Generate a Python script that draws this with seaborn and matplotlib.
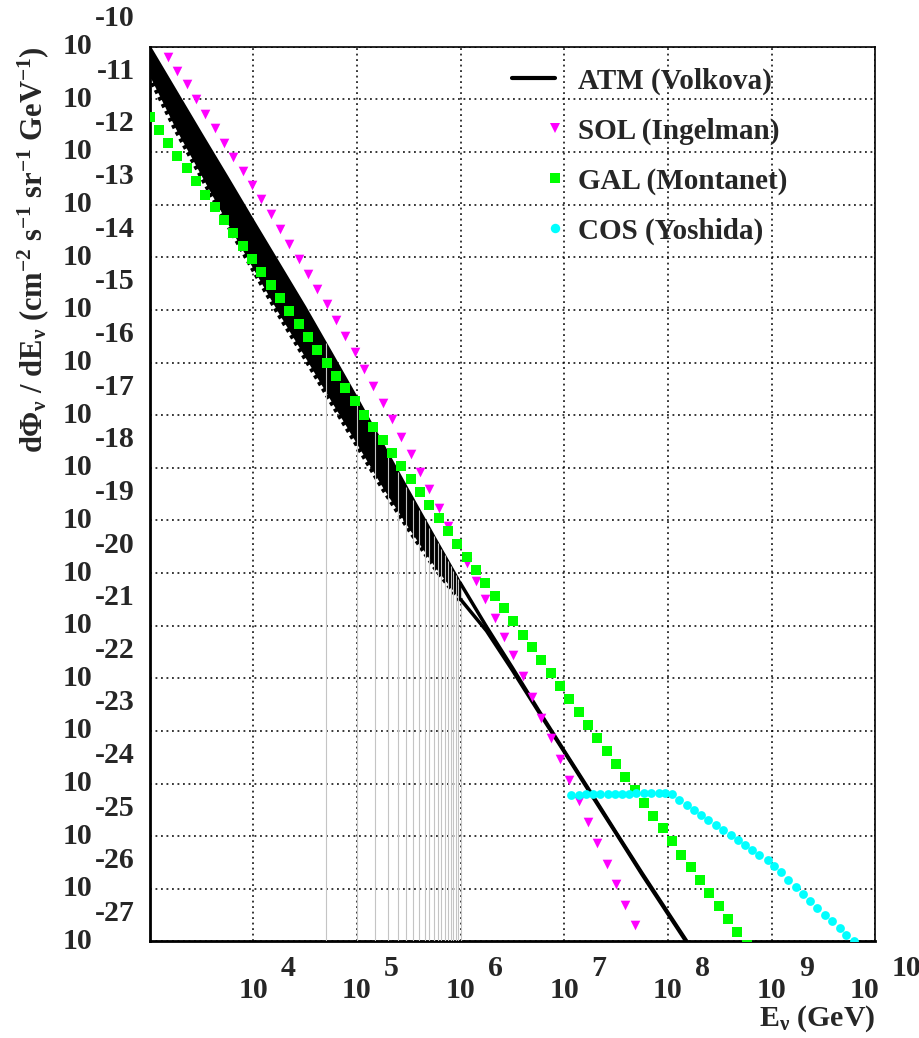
import numpy as np
import pandas as pd
import matplotlib
matplotlib.use("Agg")
import matplotlib.pyplot as plt
import seaborn as sns
from matplotlib.lines import Line2D
from matplotlib.legend_handler import HandlerLine2D
from matplotlib.ticker import LogLocator, NullFormatter

# energy grid (log10 E / GeV) shared by SOL and GAL markers
e_grid = [3.00, 3.09, 3.18, 3.27, 3.36, 3.45, 3.54, 3.63, 3.72, 3.81,
          3.90, 3.99, 4.08, 4.17, 4.26, 4.35, 4.44, 4.53, 4.62, 4.71,
          4.80, 4.89, 4.98, 5.07, 5.16, 5.25, 5.34, 5.43, 5.52, 5.61,
          5.70, 5.79, 5.88, 5.97, 6.06, 6.15, 6.24, 6.33, 6.42, 6.51,
          6.60, 6.69, 6.78, 6.87, 6.96, 7.05, 7.14, 7.23, 7.32, 7.41,
          7.50, 7.59, 7.68, 7.77, 7.86, 7.95, 8.04, 8.13, 8.22, 8.31,
          8.40, 8.49, 8.58, 8.67, 8.76]

# SOL (Ingelman), log10 flux, starts at e_grid[1]
sol_flux = [-9.92, -10.19, -10.46, -10.71, -10.99, -11.27, -11.54, -11.82, -12.09, -12.36,
            -12.63, -12.90, -13.17, -13.46, -13.74, -14.04, -14.31, -14.60, -14.89, -15.19,
            -15.50, -15.80, -16.12, -16.44, -16.76, -17.07, -17.41, -17.74, -18.08, -18.41,
            -18.76, -19.10, -19.45, -19.80, -20.15, -20.49, -20.86, -21.21, -21.56, -21.96,
            -22.35, -22.75, -23.14, -23.54, -23.93, -24.33, -24.73, -25.12, -25.52, -25.91,
            -26.30, -26.69]

# GAL (Montanet), log10 flux on e_grid
gal_flux = [-11.33, -11.58, -11.82, -12.07, -12.31, -12.56, -12.81, -13.05, -13.30, -13.54,
            -13.79, -14.03, -14.28, -14.53, -14.77, -15.02, -15.26, -15.51, -15.76, -16.00,
            -16.25, -16.49, -16.74, -16.99, -17.23, -17.48, -17.72, -17.97, -18.22, -18.46,
            -18.71, -18.95, -19.20, -19.44, -19.69, -19.94, -20.18, -20.43, -20.67, -20.92,
            -21.17, -21.41, -21.66, -21.90, -22.15, -22.40, -22.64, -22.89, -23.13, -23.38,
            -23.63, -23.87, -24.12, -24.36, -24.61, -24.85, -25.10, -25.35, -25.59, -25.84,
            -26.08, -26.33, -26.58, -26.82, -27.07]

# COS (Yoshida)
cos_e = [7.06, 7.14, 7.21, 7.28, 7.34, 7.42, 7.49, 7.56, 7.62, 7.69,
         7.77, 7.84, 7.91, 7.97, 8.04, 8.11, 8.18, 8.25, 8.32, 8.39,
         8.46, 8.53, 8.61, 8.68, 8.74, 8.81, 8.88, 8.96, 9.02, 9.09,
         9.16, 9.23, 9.30, 9.37, 9.44, 9.51, 9.58, 9.66, 9.72, 9.79]
cos_flux = [-24.22, -24.21, -24.20, -24.20, -24.20, -24.20, -24.19, -24.19, -24.19, -24.18,
            -24.17, -24.17, -24.17, -24.17, -24.20, -24.31, -24.41, -24.51, -24.60, -24.70,
            -24.79, -24.88, -24.98, -25.08, -25.17, -25.27, -25.36, -25.46, -25.57, -25.68,
            -25.83, -25.96, -26.10, -26.23, -26.36, -26.49, -26.62, -26.75, -26.88, -26.99]

# ATM (Volkova) zenith band, 1e3 - 1e6 GeV
atm_band_e = [3.00, 3.25, 3.50, 3.75, 4.00, 4.25, 4.50, 4.75, 5.00, 5.25, 5.50, 5.75, 6.00]
atm_band_hi = [-10.00, -10.83, -11.66, -12.48, -13.31, -14.13, -14.95, -15.81, -16.68,
               -17.56, -18.45, -19.33, -20.20]
atm_band_lo = [-10.55, -11.55, -12.45, -13.35, -14.22, -15.08, -15.90, -16.73, -17.55,
               -18.38, -19.15, -19.88, -20.52]
# ATM above 1e6 GeV (two curves)
atm_tail_e = [6.00, 6.25, 6.50, 6.75, 7.00, 7.25, 7.50, 7.75, 8.00, 8.25]
atm_tail_a = [-20.20, -21.02, -21.80, -22.60, -23.38, -24.15, -24.93, -25.70, -26.45, -27.20]
atm_tail_b = [-20.50, -21.10, -21.85, -22.63, -23.40, -24.18, -24.95, -25.73, -26.48, -27.23]

# energies (GeV) of the thin grey drop lines under the band
drop_e = [5e4, 1e5, 1.5e5, 2e5, 2.5e5, 3e5, 3.5e5, 4e5, 4.5e5, 5e5,
          5.5e5, 6e5, 6.5e5, 7e5, 7.5e5, 8e5, 8.5e5, 9e5, 9.5e5, 1e6]


class RightMarker(HandlerLine2D):
    # ROOT puts the legend marker at the right end of the sample box
    def create_artists(self, *args, **kwargs):
        arts = super().create_artists(*args, **kwargs)
        for a in arts:
            a.set_markevery([2])
        return arts


sns.set_style("white")
plt.rcParams["font.family"] = ["Liberation Serif", "DejaVu Serif"]
plt.rcParams["font.weight"] = "bold"
plt.rcParams["mathtext.fontset"] = "custom"
plt.rcParams["mathtext.rm"] = "Liberation Serif:bold"
plt.rcParams["mathtext.it"] = "Liberation Serif:bold"
plt.rcParams["mathtext.bf"] = "Liberation Serif:bold"
plt.rcParams["mathtext.default"] = "rm"

fig = plt.figure(figsize=(9.2, 10.38), dpi=100)
ax = fig.add_axes([0.1625, 0.0930, 0.789, 0.862])
ax.set_xscale("log")
ax.set_yscale("log")
ax.set_xlim(1e3, 1e10)
ax.set_ylim(1e-27, 1e-10)

sol = pd.DataFrame({"E": 10 ** np.array(e_grid[1:1 + len(sol_flux)]), "F": 10 ** np.array(sol_flux)})
gal = pd.DataFrame({"E": 10 ** np.array(e_grid), "F": 10 ** np.array(gal_flux)})
cos = pd.DataFrame({"E": 10 ** np.array(cos_e), "F": 10 ** np.array(cos_flux)})

band_e = 10 ** np.array(atm_band_e)
band_hi = 10 ** np.array(atm_band_hi)
band_lo = 10 ** np.array(atm_band_lo)

# band
ax.fill_between(band_e, band_lo, band_hi, color="black", lw=0, zorder=3)
ax.plot(band_e, band_hi, color="black", lw=2, zorder=3)
ax.plot(band_e, band_lo, color="black", lw=4, ls=(0, (0.7, 0.7)), zorder=3)
drop_top = 10 ** np.interp(np.log10(drop_e), atm_band_e, atm_band_hi)
ax.vlines(drop_e, 1e-27, drop_top, color="#c4c4c4", lw=0.8, zorder=4)

for tail in (atm_tail_a, atm_tail_b):
    t = pd.DataFrame({"E": 10 ** np.array(atm_tail_e), "F": 10 ** np.array(tail)})
    sns.lineplot(data=t, x="E", y="F", color="black", lw=2.5, ax=ax, sort=False,
                 estimator=None, zorder=4)

sns.scatterplot(data=sol, x="E", y="F", marker="v", color="#ff00ff", s=48, linewidth=0,
                ax=ax, zorder=5)
sns.scatterplot(data=gal, x="E", y="F", marker="s", color="#00ff00", s=44, linewidth=0,
                ax=ax, zorder=6)
sns.scatterplot(data=cos, x="E", y="F", marker="o", color="#00ffff", s=40, linewidth=0,
                ax=ax, zorder=6)

# axes styling (ROOT look)
ax.grid(True, which="major", color="black", ls=(0, (1.2, 2.4)), lw=1.1)
ax.set_axisbelow(True)
for sp in ax.spines.values():
    sp.set_color("black")
    sp.set_linewidth(1.2)
ax.spines["bottom"].set_linewidth(2)
ax.spines["left"].set_linewidth(2)

ax.xaxis.set_major_locator(LogLocator(base=10, numticks=20))
ax.xaxis.set_minor_locator(LogLocator(base=10, subs=np.arange(2, 10), numticks=200))
ax.yaxis.set_major_locator(LogLocator(base=10, numticks=40))
ax.yaxis.set_minor_locator(LogLocator(base=10, subs=np.arange(2, 10), numticks=400))
ax.xaxis.set_major_formatter(NullFormatter())
ax.xaxis.set_minor_formatter(NullFormatter())
ax.yaxis.set_major_formatter(NullFormatter())
ax.yaxis.set_minor_formatter(NullFormatter())
ax.tick_params(which="major", direction="in", length=12, width=1.2, top=False, right=False)
ax.tick_params(which="minor", direction="in", length=6, width=1.0, top=False, right=False)
ax.set_xlabel("")
ax.set_ylabel("")

lab_fs = 21.5
for e in range(-27, -9):
    ax.annotate("10", xy=(0, 10.0 ** e), xycoords=ax.get_yaxis_transform(),
                xytext=(-57, 0), textcoords="offset pixels", ha="right", va="center",
                fontsize=lab_fs, fontweight="bold")
    ax.annotate(str(e), xy=(0, 10.0 ** e), xycoords=ax.get_yaxis_transform(),
                xytext=(-15, 28), textcoords="offset pixels", ha="right", va="center",
                fontsize=lab_fs, fontweight="bold")
for e in range(4, 11):
    shift = -11 if e == 10 else 0
    ax.annotate("10", xy=(10.0 ** e, 0), xycoords=ax.get_xaxis_transform(),
                xytext=(shift, -49), textcoords="offset pixels", ha="center", va="center",
                fontsize=lab_fs, fontweight="bold")
    ax.annotate(str(e), xy=(10.0 ** e, 0), xycoords=ax.get_xaxis_transform(),
                xytext=(shift + 27, -27), textcoords="offset pixels", ha="left", va="center",
                fontsize=lab_fs, fontweight="bold")

fig.text(875 / 920, 1 - 1019 / 1038, r"E$_{\nu}$ (GeV)", ha="right", va="center",
         fontsize=lab_fs, fontweight="bold")
fig.text(33 / 920, 1 - 46 / 1038,
         r"d$\Phi_{\nu}$ / dE$_{\nu}$ (cm$^{-2}$ s$^{-1}$ sr$^{-1}$ GeV$^{-1}$)",
         rotation=90, ha="center", va="top", fontsize=22, fontweight="bold")

handles = [
    Line2D([], [], color="black", lw=3),
    Line2D([], [], color="#ff00ff", marker="v", ls="none", ms=7.5, mew=0),
    Line2D([], [], color="#00ff00", marker="s", ls="none", ms=7, mew=0),
    Line2D([], [], color="#00ffff", marker="o", ls="none", ms=6.8, mew=0),
]
labels = ["ATM (Volkova)", "SOL (Ingelman)", "GAL (Montanet)", "COS (Yoshida)"]
ax.legend(handles, labels, loc="upper left", bbox_to_anchor=(0.4997, 0.977),
          frameon=False, handlelength=1.45, handletextpad=0.8,
          labelspacing=0.78, borderpad=0, borderaxespad=0, numpoints=1,
          handler_map={Line2D: RightMarker()},
          prop={"weight": "bold", "size": 21})

fig.savefig("out.png", dpi=100)
